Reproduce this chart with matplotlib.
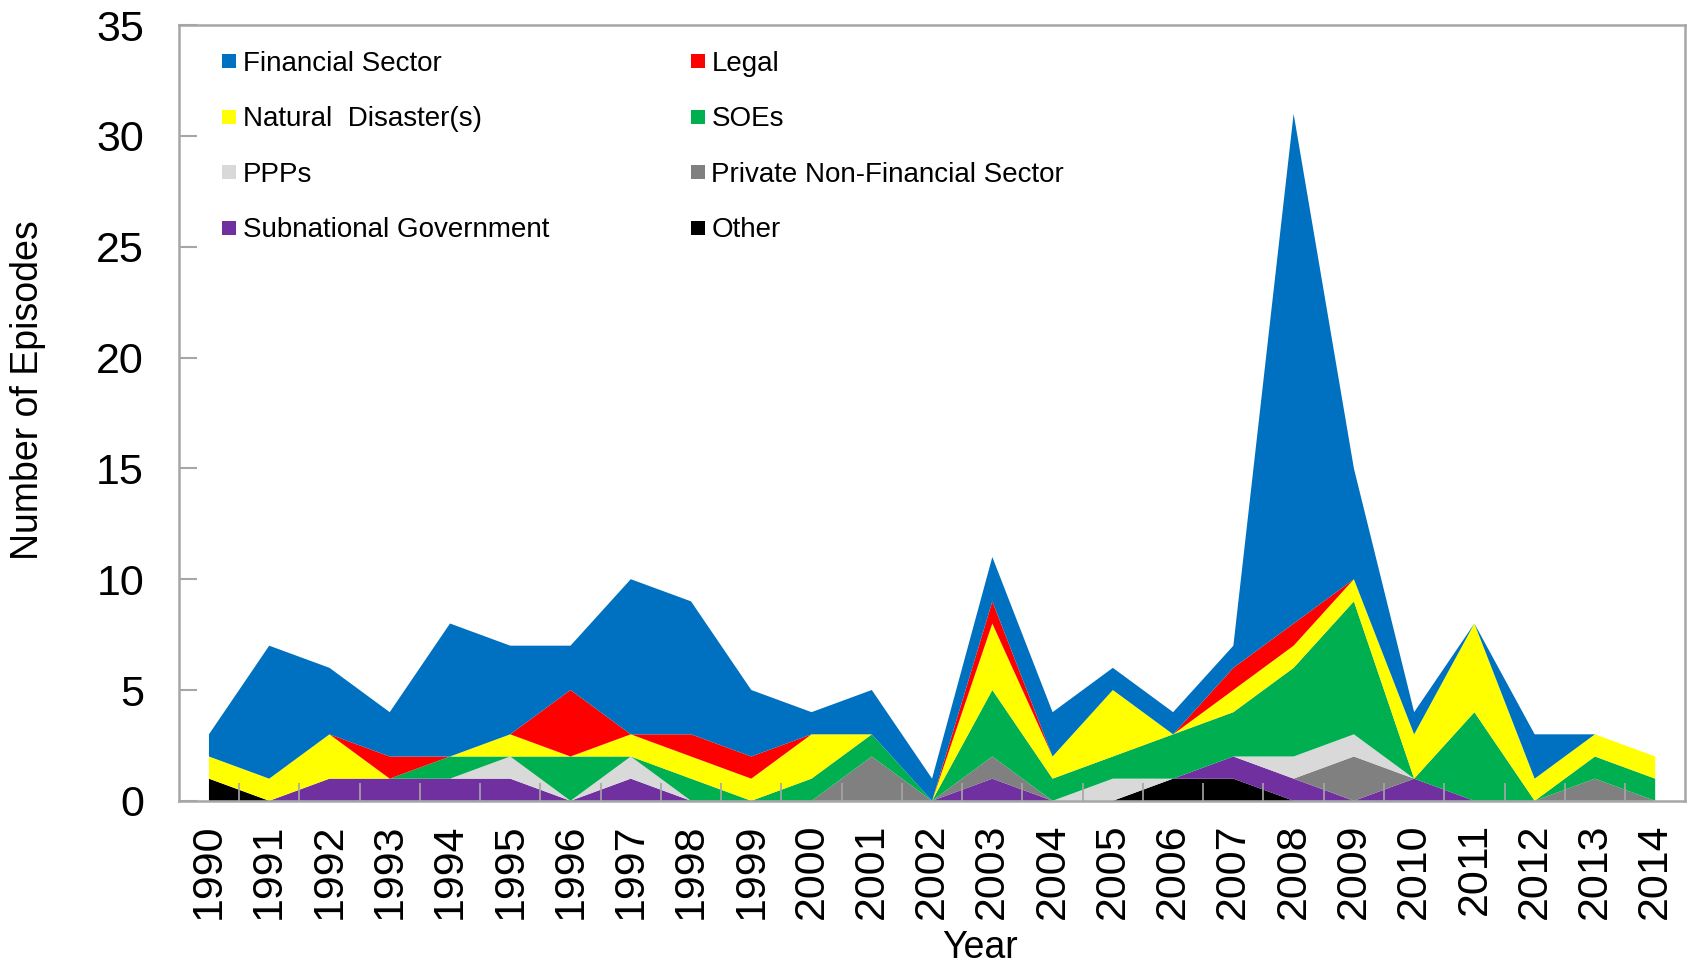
import numpy as np
import matplotlib.pyplot as plt
from matplotlib.lines import Line2D

plt.rcParams['font.family'] = ['Liberation Sans', 'DejaVu Sans']

years = list(range(1990, 2015))

# episodes per year, by category
other       = [1, 0, 0, 0, 0, 0, 0, 0, 0, 0, 0, 0, 0, 0, 0, 0, 1, 1, 0, 0, 0, 0, 0, 0, 0]
subnational = [0, 0, 1, 1, 1, 1, 0, 1, 0, 0, 0, 0, 0, 1, 0, 0, 0, 1, 1, 0, 1, 0, 0, 0, 0]
private_nf  = [0, 0, 0, 0, 0, 0, 0, 0, 0, 0, 0, 2, 0, 1, 0, 0, 0, 0, 0, 2, 0, 0, 0, 1, 0]
ppps        = [0, 0, 0, 0, 0, 1, 0, 1, 0, 0, 0, 0, 0, 0, 0, 1, 0, 0, 1, 1, 0, 0, 0, 0, 0]
soes        = [0, 0, 0, 0, 1, 0, 2, 0, 1, 0, 1, 1, 0, 3, 1, 1, 2, 2, 4, 6, 0, 4, 0, 1, 1]
natural     = [1, 1, 2, 0, 0, 1, 0, 1, 1, 1, 2, 0, 0, 3, 1, 3, 0, 1, 1, 1, 2, 4, 1, 1, 1]
legal       = [0, 0, 0, 1, 0, 0, 3, 0, 1, 1, 0, 0, 0, 1, 0, 0, 0, 1, 1, 0, 0, 0, 0, 0, 0]
financial   = [1, 6, 3, 2, 6, 4, 2, 7, 6, 3, 1, 2, 1, 2, 2, 1, 1, 1, 23, 5, 1, 0, 2, 0, 0]

series = [other, subnational, private_nf, ppps, soes, natural, legal, financial]
labels = ['Other', 'Subnational Government', 'Private Non-Financial Sector', 'PPPs',
          'SOEs', 'Natural  Disaster(s)', 'Legal', 'Financial Sector']
colors = ['#000000', '#7030A0', '#808080', '#D9D9D9',
          '#00B050', '#FFFF00', '#FF0000', '#0070C0']

fig = plt.figure(figsize=(16.87, 9.66), dpi=100)
ax = fig.add_axes([0.106, 0.171, 0.893, 0.803])

ax.stackplot(years, series, colors=colors, linewidth=0)

ax.set_xlim(1989.5, 2014.5)
ax.set_ylim(0, 35)
ax.set_yticks(range(0, 36, 5))
ax.set_xticks(years)
ax.set_xticks(np.arange(1990.5, 2014, 1), minor=True)
ax.set_xticklabels([str(y) for y in years], rotation=90)

for s in ax.spines.values():
    s.set_color('#a6a6a6')
    s.set_linewidth(1.8)

ax.tick_params(axis='y', direction='in', length=13, width=1.5, color='#a6a6a6',
               labelsize=31, pad=25)
ax.tick_params(axis='x', which='major', length=0, labelsize=31, pad=16)
ax.tick_params(axis='x', which='minor', direction='in', length=13, width=1.2,
               color='#a6a6a6')

ax.set_ylabel('Number of Episodes', fontsize=27, va='center')
ax.yaxis.set_label_coords(-0.1, 0.53)
ax.set_xlabel('Year', fontsize=27)
ax.xaxis.set_label_coords(0.532, -0.166)

# legend: two columns, small square swatches
order = [7, 5, 3, 1, 6, 4, 2, 0]
handles = [Line2D([], [], ls='none', marker='s', markersize=9.5,
                  markerfacecolor=colors[i], markeredgewidth=0) for i in order]
ax.legend(handles, [labels[i] for i in order], ncol=2, loc='upper left',
          bbox_to_anchor=(0.011, 0.999), frameon=False, fontsize=20,
          handlelength=0.6, handletextpad=0.2, labelspacing=1.06,
          columnspacing=5.05)

plt.savefig('out.png', dpi=100)
